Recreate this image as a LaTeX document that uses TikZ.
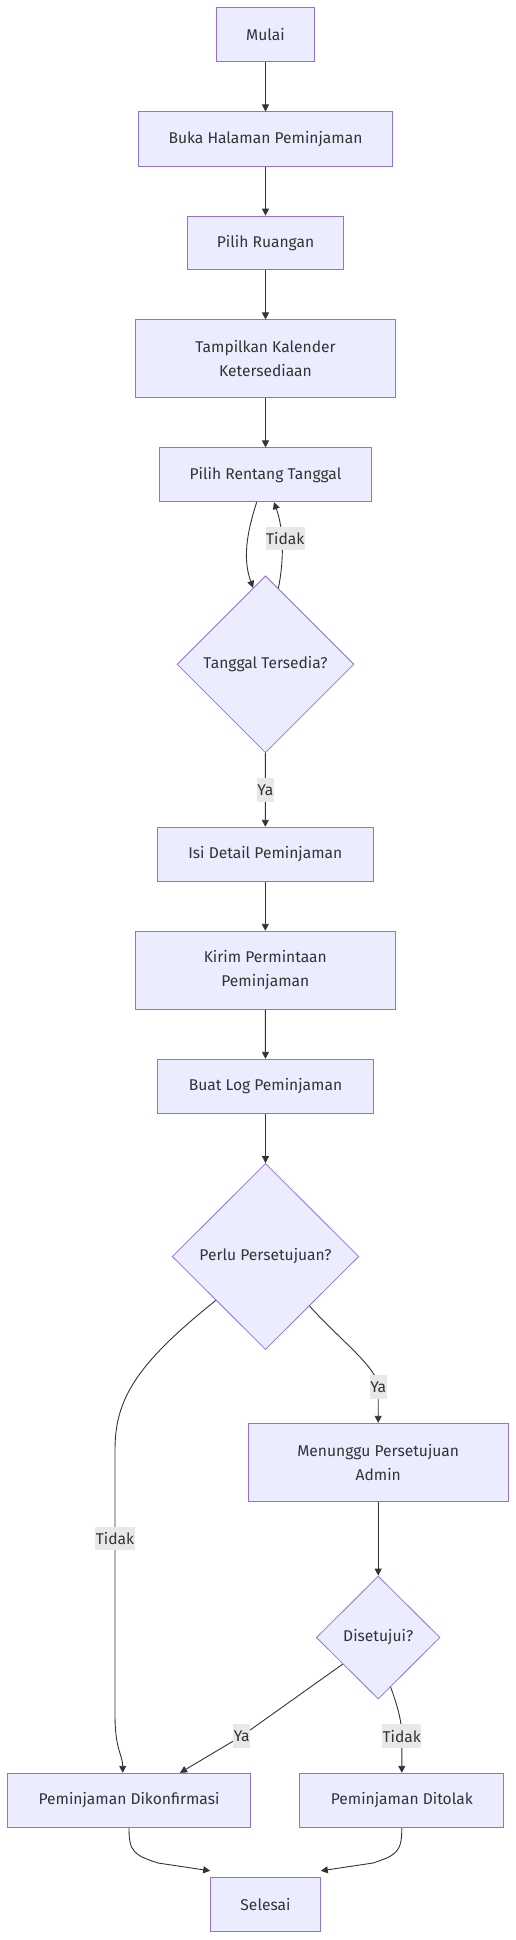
\documentclass[tikz,border=0pt]{standalone}
\usepackage{fontspec}
\setmainfont{Fira Sans}
\usetikzlibrary{shapes.geometric,arrows.meta,calc}
\definecolor{boxfill}{HTML}{ECECFF}
\definecolor{boxline}{HTML}{9370DB}
\definecolor{edgec}{HTML}{333333}
\definecolor{lblbg}{HTML}{E8E8E8}
\tikzset{
  box/.style={draw=boxline, fill=boxfill, line width=1pt, inner sep=0pt, text=edgec, align=center, font=\fontsize{15.6}{24}\selectfont},
  dia/.style={diamond, draw=boxline, fill=boxfill, line width=0.8pt, inner sep=0pt, text=edgec, font=\fontsize{15.6}{24}\selectfont},
  lbl/.style={fill=lblbg, text=edgec, inner xsep=0.5pt, inner ysep=0pt, minimum height=23.4pt, font=\fontsize{15.6}{18}\selectfont},
  arr/.style={draw=edgec, line width=0.9pt, -{Triangle[length=7pt,width=7pt]}},
}
\begin{document}
\begin{tikzpicture}[x=1pt,y=-1pt]
\useasboundingbox (0,0) rectangle (516,1940);
\node[box, minimum width=97.7pt, minimum height=54.3pt] (start) at (265.5,34.8) {Mulai};
\node[box, minimum width=254.4pt, minimum height=54pt] (buka) at (265.5,139) {Buka Halaman Peminjaman};
\node[box, minimum width=155.6pt, minimum height=53.7pt] (ruang) at (265.5,243) {Pilih Ruangan};
\node[box, minimum width=260pt, minimum height=77.7pt] (kal) at (265.5,358.8) {Tampilkan Kalender\\Ketersediaan};
\node[box, minimum width=211.6pt, minimum height=53.7pt] (rent) at (265.5,474.8) {Pilih Rentang Tanggal};
\node[dia, minimum width=177pt, minimum height=177pt] (tgl) at (265.5,664.3) {Tanggal Tersedia?};
\node[box, minimum width=216pt, minimum height=54pt] (isi) at (265.3,854.3) {Isi Detail Peminjaman};
\node[box, minimum width=260pt, minimum height=78pt] (kirim) at (265.3,970.3) {Kirim Permintaan\\Peminjaman};
\node[box, minimum width=215.6pt, minimum height=54pt] (log) at (265.5,1086.3) {Buat Log Peminjaman};
\node[dia, minimum width=186.7pt, minimum height=186pt] (perlu) at (265.5,1256.5) {Perlu Persetujuan?};
\node[box, minimum width=260.3pt, minimum height=78.4pt] (tunggu) at (378.2,1462.5) {Menunggu Persetujuan\\Admin};
\node[dia, minimum width=123.7pt, minimum height=123pt] (setuju) at (378.2,1637.5) {Disetujui?};
\node[box, minimum width=242.6pt, minimum height=54.4pt] (konf) at (129,1800.5) {Peminjaman Dikonfirmasi};
\node[box, minimum width=203.7pt, minimum height=54.4pt] (tolak) at (401.8,1800.5) {Peminjaman Ditolak};
\node[box, minimum width=109.6pt, minimum height=54pt] (selesai) at (265.5,1904.3) {Selesai};

\draw[arr] (start) -- (buka);
\draw[arr] (buka) -- (ruang);
\draw[arr] (ruang) -- (kal);
\draw[arr] (kal) -- (rent);
\draw[arr] ([xshift=-8.8pt]rent.south) .. controls (246,535) and (243,560) .. ($(tgl.north)!0.14!(tgl.west)$);
\draw[arr] ($(tgl.north)!0.145!(tgl.east)$) .. controls (284,560) and (284,530) .. ([xshift=8.5pt]rent.south);
\node[lbl] (l1) at (285.3,538.3) {Tidak};
\draw[arr] (tgl) -- node[lbl] {Ya} (isi);
\draw[arr] (isi) -- (kirim);
\draw[arr] (kirim) -- (log);
\draw[arr] (log) -- (perlu);
\draw[arr] ($(perlu.east)!0.53!(perlu.south)$) .. controls (340,1340) and (378.2,1368) .. (378.2,1387) node[lbl] {Ya} -- (tunggu.north);
\draw[arr] ($(perlu.west)!0.47!(perlu.south)$) .. controls (135,1365) and (115,1400) .. (115,1450) -- (115,1538.3) node[lbl] {Tidak} -- (115,1715) .. controls (115,1750) and (122.7,1755) .. ([xshift=-6.3pt]konf.north);
\draw[arr] (tunggu) -- (setuju);
\draw[arr] ($(setuju.west)!0.43!(setuju.south)$) -- (241.7,1736) node[lbl] {Ya} -- ([xshift=51pt]konf.north);
\draw[arr] ($(setuju.south)!0.2!(setuju.east)$) .. controls (397,1705) and (401.8,1720) .. (401.8,1736) node[lbl] {Tidak} -- (tolak.north);
\draw[arr] (konf.south) .. controls (129,1852) and (134,1855) .. (158,1863) -- ([yshift=6pt]selesai.north west);
\draw[arr] (tolak.south) .. controls (401.8,1852) and (396.8,1855) .. (373,1863) -- ([yshift=6pt]selesai.north east);
\end{tikzpicture}
\end{document}
